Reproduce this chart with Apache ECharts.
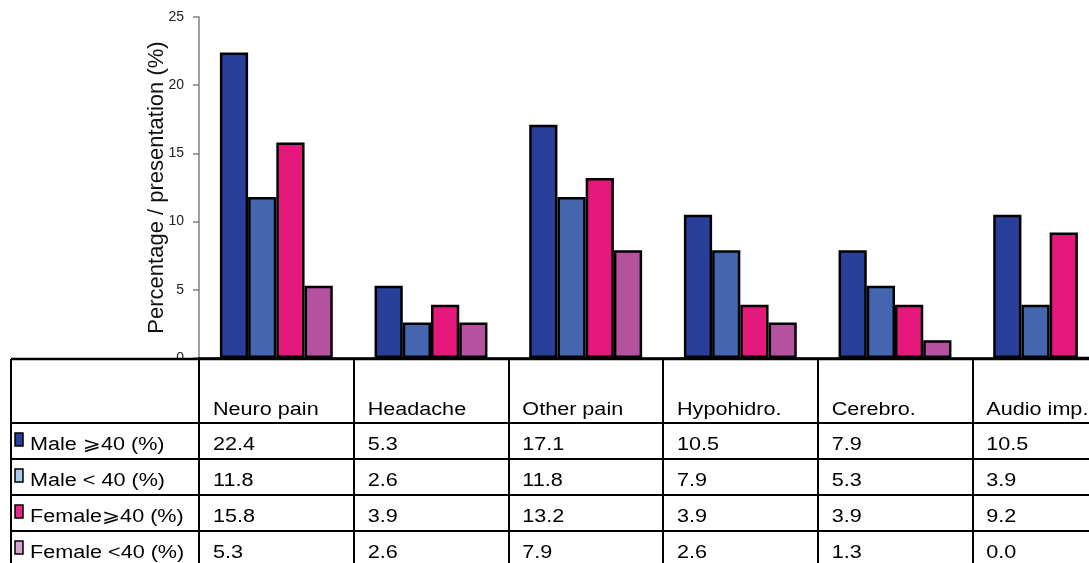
<!DOCTYPE html>
<html>
<head>
<meta charset="utf-8">
<script src="https://cdn.jsdelivr.net/npm/echarts@6/dist/echarts.min.js"></script>
<style>
  html, body { margin: 0; padding: 0; background: #fff; }
  #chart { width: 1089px; height: 563px; }
</style>
</head>
<body>
<div id="chart"></div>
<script>
// Categories and series values (percent of presentations)
const categories = ['Neuro pain', 'Headache', 'Other pain', 'Hypohidro.', 'Cerebro.', 'Audio imp.'];
const seriesNames = ['Male \u2A7E40 (%)', 'Male < 40 (%)', 'Female\u2A7E40 (%)', 'Female <40 (%)'];
const male40Plus    = [22.4, 5.3, 17.1, 10.5, 7.9, 10.5];
const maleUnder40   = [11.8, 2.6, 11.8, 7.9, 5.3, 3.9];
const female40Plus  = [15.8, 3.9, 13.2, 3.9, 3.9, 9.2];
const femaleUnder40 = [5.3, 2.6, 7.9, 2.6, 1.3, 0.0];
const yMin = 0, yMax = 25, yStep = 5;

const seriesValues = [male40Plus, maleUnder40, female40Plus, femaleUnder40];
const barColors = ['#28409A', '#4466AE', '#E4197B', '#B5529F'];
const keyColors = ['#2A3D99', '#A7CAEC', '#E8268A', '#D9A3CB'];

const tableFont = "'Liberation Sans', Arial, 'DejaVu Sans', sans-serif";

const chart = echarts.init(document.getElementById('chart'), null, { renderer: 'canvas' });

chart.setOption({
  animation: false,
  backgroundColor: '#fff',
  grid: { left: 199, top: 17, width: 928, height: 341, outerBoundsMode: 'none', containLabel: false },
  xAxis: {
    type: 'category',
    data: categories,
    boundaryGap: true,
    axisLine: { lineStyle: { color: '#000', width: 2.5 } },
    // ticks run down through the table as its column rules
    axisTick: { show: true, length: 215, lineStyle: { color: '#000', width: 2 } },
    axisLabel: { show: false },
    splitLine: { show: false },
    z: 5
  },
  yAxis: {
    type: 'value',
    min: yMin, max: yMax, interval: yStep,
    name: 'Percentage / presentation (%)',
    nameLocation: 'middle',
    nameGap: 31,
    nameMoveOverlap: false,
    nameTextStyle: { fontSize: 22, color: '#111', fontFamily: tableFont },
    axisLine: { show: true, lineStyle: { color: '#808080', width: 1.5 } },
    axisTick: { show: true, length: 6, lineStyle: { color: '#808080', width: 1.5 } },
    axisLabel: {
      margin: 15, fontSize: 14, color: '#222', padding: [6, 0, 0, 0],
      fontFamily: "'Liberation Sans', Arial, sans-serif"
    },
    splitLine: { show: false }
  },
  series: seriesValues.map((vals, i) => ({
    name: seriesNames[i],
    type: 'bar',
    data: vals,
    barGap: '0%',
    barCategoryGap: '27%',
    itemStyle: { color: barColors[i], borderColor: '#000', borderWidth: 2.5 }
  }))
});

// Data table under the plot, columns taken from the category axis
function buildTable() {
  const c0 = chart.convertToPixel({ xAxisIndex: 0 }, 0);
  const c1 = chart.convertToPixel({ xAxisIndex: 0 }, 1);
  const band = c1 - c0;
  const axisY = chart.convertToPixel({ yAxisIndex: 0 }, 0);
  const tableLeft = 11;
  const tableRight = c0 - band / 2 + band * categories.length;
  const topY = axisY + 1;
  const headerBottom = 423;
  const rowH = 36;
  const els = [];

  // white block over the left column so the "0" tick label sits behind the table
  els.push({ type: 'rect', shape: { x: 0, y: topY, width: c0 - band / 2 - 1, height: 563 - topY },
    style: { fill: '#fff' }, z: 50, silent: true });

  const line = (x1, y1, x2, y2, w) => els.push({
    type: 'line', shape: { x1, y1, x2, y2 }, style: { stroke: '#000', lineWidth: w }, z: 60, silent: true
  });
  line(tableLeft, topY, tableRight, topY, 2.5);
  line(tableLeft, topY, tableLeft, 570, 2);
  line(c0 - band / 2, topY, c0 - band / 2, 570, 2);
  for (let r = 0; r <= seriesNames.length; r++) {
    const y = headerBottom + r * rowH;
    line(tableLeft, y, tableRight, y, 2);
  }

  const text = (x, y, str) => els.push({
    type: 'text', x, y, scaleX: 1.2, z: 70, silent: true,
    style: { text: str, x: 0, y: 0, fontSize: 18, fontFamily: tableFont, fill: '#000',
      align: 'left', verticalAlign: 'middle' }
  });

  categories.forEach((cat, j) => {
    const left = chart.convertToPixel({ xAxisIndex: 0 }, j) - band / 2;
    text(left + 14, 410, cat);
    seriesValues.forEach((vals, i) => {
      text(left + 14, headerBottom + i * rowH + 22, vals[j].toFixed(1));
    });
  });

  seriesNames.forEach((name, i) => {
    const rowTop = headerBottom + i * rowH;
    els.push({ type: 'rect', shape: { x: 15, y: rowTop + 10, width: 8, height: 13 },
      style: { fill: keyColors[i], stroke: '#000', lineWidth: 1.5 }, z: 70, silent: true });
    text(30, rowTop + 22, name);
  });

  chart.setOption({ graphic: els });
}
buildTable();
</script>
</body>
</html>
